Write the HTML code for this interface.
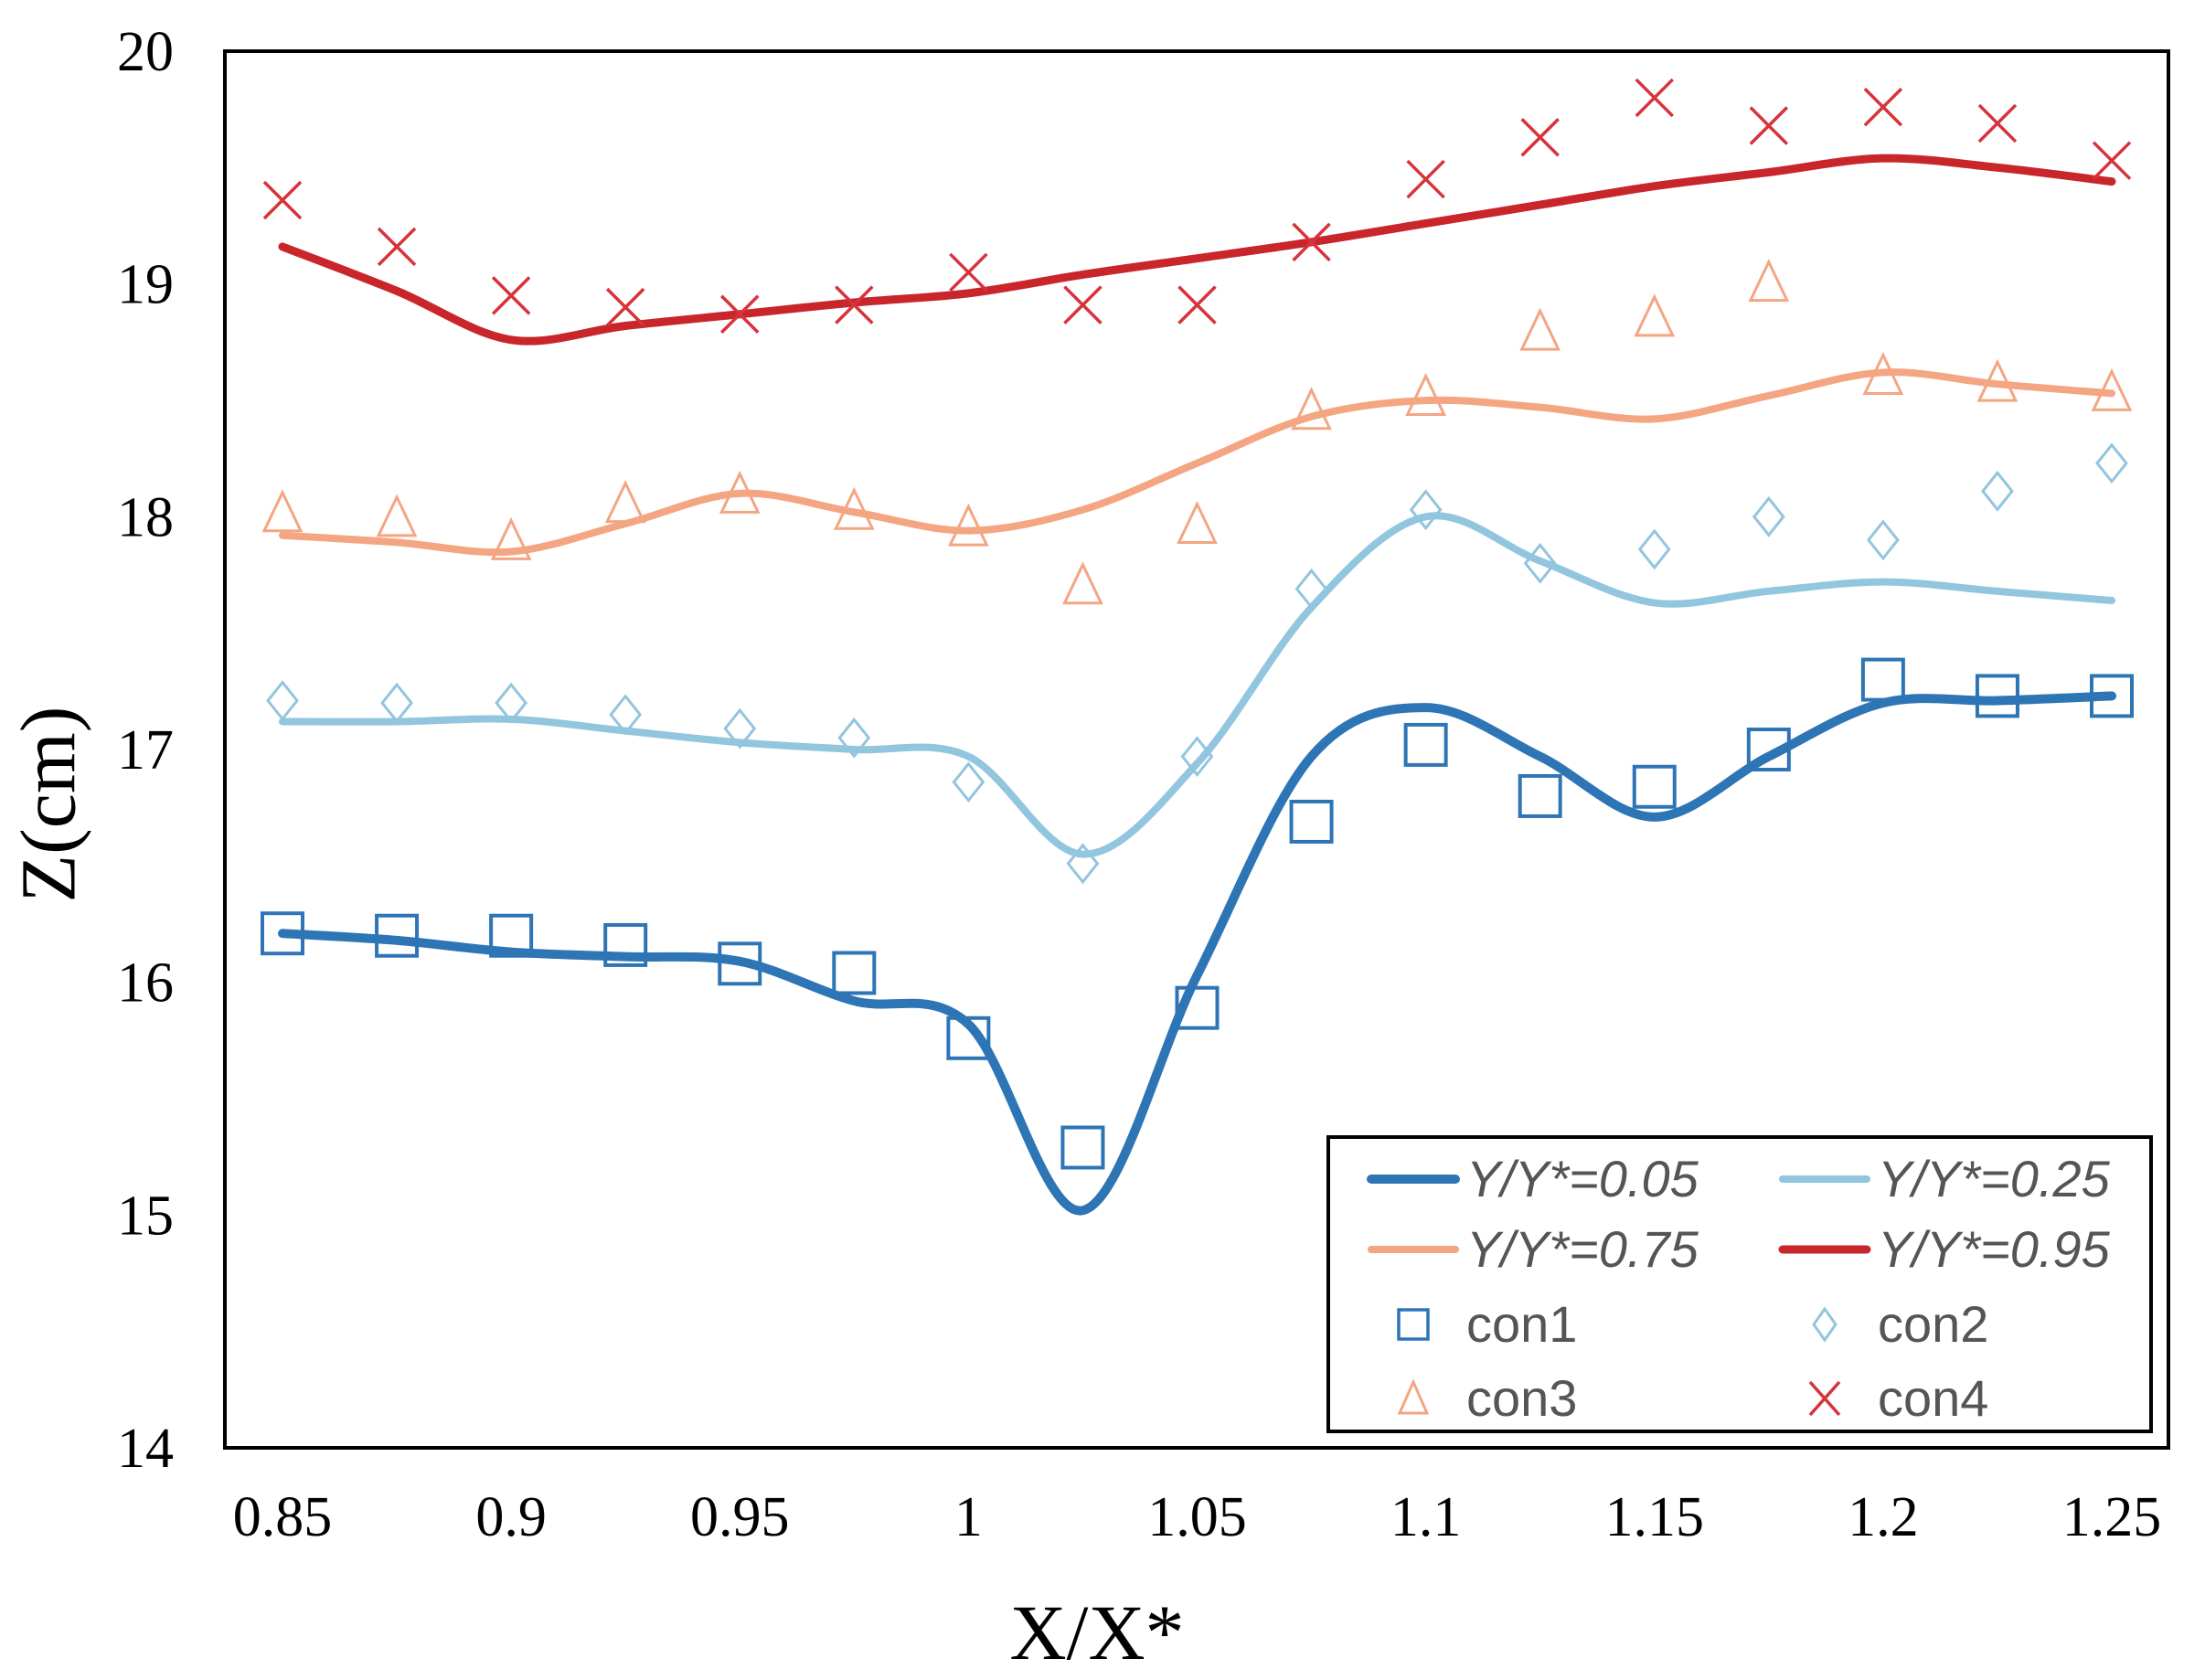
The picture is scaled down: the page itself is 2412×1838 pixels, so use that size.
<!DOCTYPE html>
<html><head><meta charset="utf-8"><style>
html,body{margin:0;padding:0;background:#fff;}
svg{display:block;}
</style></head><body>
<svg id="chart" width="2412" height="1838" viewBox="0 0 2412 1838" xmlns="http://www.w3.org/2000/svg">
<rect x="0" y="0" width="2412" height="1838" fill="#fff"/>
<g id="marks"></g>
<rect x="246" y="56" width="2126" height="1528" fill="none" stroke="#000" stroke-width="4"/>
<g id="ticks" font-family="'Liberation Serif', serif" font-size="62" fill="#000"></g>
<text x="62" y="880" font-family="'Liberation Serif', serif" font-size="86" text-anchor="middle" dominant-baseline="middle" transform="rotate(-90 62 880)">Z(cm)</text>
<text x="1200" y="1815" font-family="'Liberation Serif', serif" font-size="86" text-anchor="middle">X/X*</text>
<g id="legend">
<rect x="1453" y="1244" width="900" height="322" fill="#fff" stroke="#000" stroke-width="4"/>
</g>
</svg>
<script>
const xCats = [0.85,0.875,0.9,0.925,0.95,0.975,1.0,1.025,1.05,1.075,1.1,1.125,1.15,1.175,1.2,1.225,1.25];
const line005 = [16.21,16.18,16.13,16.11,16.09,15.92,15.82,15.02,16.03,16.97,17.18,16.97,16.71,16.97,17.20,17.21,17.23];
const line025 = [17.12,17.12,17.13,17.08,17.03,17.00,16.97,16.55,16.94,17.61,18.00,17.81,17.63,17.68,17.72,17.68,17.64];
const line075 = [17.92,17.89,17.85,17.97,18.10,18.02,17.94,18.03,18.23,18.43,18.50,18.47,18.42,18.52,18.62,18.57,18.53];
const line095 = [19.16,18.97,18.76,18.82,18.87,18.92,18.96,19.04,19.11,19.18,19.26,19.34,19.42,19.48,19.54,19.50,19.44];
const con1 = [16.21,16.20,16.20,16.16,16.08,16.04,15.76,15.29,15.89,16.69,17.02,16.80,16.84,17.00,17.30,17.23,17.23];
const con2 = [17.21,17.20,17.20,17.15,17.09,17.05,16.86,16.51,16.97,17.69,18.03,17.80,17.86,18.00,17.90,18.11,18.23];
const con3 = [18.01,17.99,17.89,18.05,18.09,18.02,17.95,17.70,17.96,18.45,18.51,18.79,18.85,19.00,18.60,18.57,18.53];
const con4 = [19.36,19.16,18.95,18.90,18.87,18.91,19.05,18.91,18.91,19.18,19.45,19.63,19.80,19.68,19.76,19.69,19.53];
const xTicks = [0.85,0.9,0.95,1,1.05,1.1,1.15,1.2,1.25];
const xTickLabels = ["0.85","0.9","0.95","1","1.05","1.1","1.15","1.2","1.25"];
const yTicks = [14,15,16,17,18,19,20];

const NS = "http://www.w3.org/2000/svg";
function X(v){ return 309 + (v-0.85)/0.4*(2310-309); }
function Y(v){ return 56 + (20-v)/6*(1584-56); }
function mk(tag, attrs, parent){ const e=document.createElementNS(NS,tag); for(const k in attrs) e.setAttribute(k,attrs[k]); parent.appendChild(e); return e; }
const marks=document.getElementById('marks'), ticks=document.getElementById('ticks'), legend=document.getElementById('legend');

function smoothPath(xs, ys){
  const p = xs.map((x,i)=>[X(x),Y(ys[i])]);
  let d = `M${p[0][0]},${p[0][1]}`;
  for(let i=0;i<p.length-1;i++){
    const p0=p[Math.max(0,i-1)], p1=p[i], p2=p[i+1], p3=p[Math.min(p.length-1,i+2)];
    const c1=[p1[0]+(p2[0]-p0[0])/6, p1[1]+(p2[1]-p0[1])/6];
    const c2=[p2[0]-(p3[0]-p1[0])/6, p2[1]-(p3[1]-p1[1])/6];
    d += ` C${c1[0]},${c1[1]} ${c2[0]},${c2[1]} ${p2[0]},${p2[1]}`;
  }
  return d;
}
const lines = [[line075,'#f4a582',8,'line-y075'],[line025,'#92c5de',8,'line-y025'],[line095,'#c9262b',9,'line-y095'],[line005,'#2e75b6',10,'line-y005']];
lines.forEach(([vals,col,w,name])=>{
  const el=mk('path',{d:smoothPath(xCats,vals),fill:'none',stroke:col,'stroke-width':w,'stroke-linecap':'round','stroke-linejoin':'round'},marks);
  
  
});
function square(cx,cy,p,col){ return mk('rect',{x:cx-22,y:cy-22,width:44,height:44,fill:'none',stroke:col,'stroke-width':4},p); }
function diamond(cx,cy,p,col){ return mk('path',{d:`M${cx},${cy-20} L${cx+16},${cy} L${cx},${cy+20} L${cx-16},${cy} Z`,fill:'none',stroke:col,'stroke-width':3},p); }
function tri(cx,cy,p,col){ return mk('path',{d:`M${cx},${cy-24} L${cx+20},${cy+18} L${cx-20},${cy+18} Z`,fill:'none',stroke:col,'stroke-width':3},p); }
function cross(cx,cy,p,col){ return mk('path',{d:`M${cx-20},${cy-20} L${cx+20},${cy+20} M${cx+20},${cy-20} L${cx-20},${cy+20}`,fill:'none',stroke:col,'stroke-width':3.5},p); }
xCats.forEach((x,i)=>{
  let e;
  e=square(X(x),Y(con1[i]),marks,'#2e75b6');
  
  
  e=diamond(X(x),Y(con2[i]),marks,'#92c5de');
  
  
  e=tri(X(x),Y(con3[i]),marks,'#f4a582');
  
  
  e=cross(X(x),Y(con4[i]),marks,'#d6333a');
  
  
});
xTicks.forEach((v,i)=>{
  const t=mk('text',{x:X(v),y:1680,'text-anchor':'middle'},ticks);
  t.textContent=xTickLabels[i];
  
  
});
yTicks.forEach(v=>{
  const t=mk('text',{x:190,y:Y(v)+21,'text-anchor':'end'},ticks);
  t.textContent=String(v);
  
  
});
const legItems=[
  ['line','#2e75b6',10,'Y/Y*=0.05',1500,1290],['line','#92c5de',8,'Y/Y*=0.25',1950,1290],
  ['line','#f4a582',8,'Y/Y*=0.75',1500,1367],['line','#c9262b',9,'Y/Y*=0.95',1950,1367],
  ['sq','#2e75b6',0,'con1',1500,1449],['di','#92c5de',0,'con2',1950,1449],
  ['tr','#f4a582',0,'con3',1500,1530],['cr','#d6333a',0,'con4',1950,1530]];
legItems.forEach(([type,col,w,label,x,y])=>{
  const g=mk('g',{},legend);
  
  
  let tx;
  if(type==='line'){ mk('line',{x1:x,y1:y,x2:x+92,y2:y,stroke:col,'stroke-width':w,'stroke-linecap':'round'},g); tx=x+104; }
  else {
    const cx=x+46, cy=y;
    if(type==='sq') mk('rect',{x:cx-16,y:cy-16,width:32,height:32,fill:'none',stroke:col,'stroke-width':3.5},g);
    if(type==='di') mk('path',{d:`M${cx},${cy-17} L${cx+12},${cy} L${cx},${cy+17} L${cx-12},${cy} Z`,fill:'none',stroke:col,'stroke-width':3},g);
    if(type==='tr') mk('path',{d:`M${cx},${cy-18} L${cx+15},${cy+16} L${cx-15},${cy+16} Z`,fill:'none',stroke:col,'stroke-width':3},g);
    if(type==='cr') mk('path',{d:`M${cx-16},${cy-18} L${cx+16},${cy+18} M${cx+16},${cy-18} L${cx-16},${cy+18}`,fill:'none',stroke:col,'stroke-width':3.5},g);
    tx=x+104;
  }
  const t=mk('text',{x:tx,y:y+19,'font-family':"'Liberation Sans', sans-serif",'font-size':56,fill:'#555','font-style':type==='line'?'italic':'normal'},g);
  t.textContent=label;
});
</script>
</body></html>
